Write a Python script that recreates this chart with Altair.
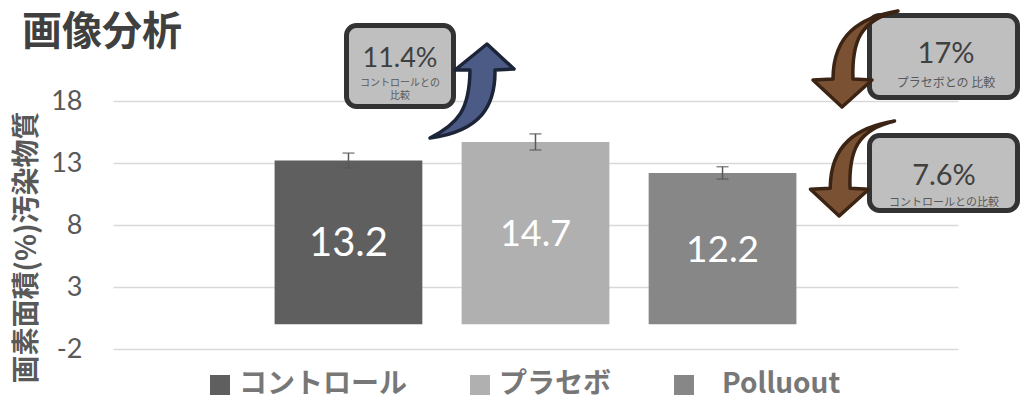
import altair as alt
import pandas as pd

# ---- data ----
categories = ["コントロール", "プラセボ", "Polluout"]
values = [13.2, 14.7, 12.2]
errors = [0.6, 0.65, 0.5]
y_ticks = [-2, 3, 8, 13, 18]

title_text = "画像分析"
y_title = "画素面積(%)汚染物質"
callout_main = ["11.4%", "17%", "7.6%"]
callout_sub = [["コントロールとの", "比較"], ["プラセボとの 比較"], ["コントロールとの比較"]]

# ---- styles ----
bar_colors = ["#5f5f5f", "#b0b0b0", "#878787"]
label_sizes = [40, 36, 37]
GRAY = "#595959"
CJK = "Noto Sans CJK JP"
NUM = "Lato"

df = pd.DataFrame({"category": categories, "value": values, "error": errors})
df["lo"] = df["value"] - df["error"]
df["hi"] = df["value"] + df["error"]
df["mid"] = df["value"] / 2

x_enc = alt.X("category:N", sort=categories,
              scale=alt.Scale(domain=categories, paddingInner=0.21, paddingOuter=0.864),
              axis=None)
y_scale = alt.Scale(domain=[-2, 18], nice=False, zero=False)

base = alt.Chart(df).encode(x=x_enc)

bars = base.mark_bar().encode(
    y=alt.Y("value:Q", scale=y_scale,
            axis=alt.Axis(values=y_ticks, title=y_title, grid=True, gridColor="#d9d9d9",
                          gridWidth=1.5, domain=False, ticks=False, labelFont=NUM,
                          labelFontSize=27, labelColor=GRAY, labelPadding=31,
                          labelExpr="datum.value + ''",
                          titleFont=CJK, titleFontSize=28, titleFontWeight="bold",
                          titleColor=GRAY, titleX=-86, titleY=146, titleBaseline="middle")),
    y2=alt.datum(0),
    color=alt.Color("category:N",
                    scale=alt.Scale(domain=categories, range=bar_colors),
                    legend=alt.Legend(orient="none", legendX=93, legendY=270,
                                      direction="horizontal", title=None,
                                      symbolType="square", symbolSize=400,
                                      symbolStrokeWidth=0, symbolOpacity=1, labelFont=CJK,
                                      labelFontSize=28, labelFontWeight="bold",
                                      labelColor="#777777", labelOffset=5,
                                      columnPadding=58, labelLimit=400, padding=0,
                                      labelExpr="indexof(datum.label, 'Pollu') >= 0 ? '\u200b\u00a0\u00a0\u00a0' + datum.label : datum.label")),
)

err_rule = base.mark_rule(color=GRAY, strokeWidth=1.5).encode(
    y=alt.Y("lo:Q", scale=y_scale), y2="hi:Q")
cap_lo = base.mark_tick(color=GRAY, size=12, thickness=1.5).encode(y=alt.Y("lo:Q", scale=y_scale))
cap_hi = base.mark_tick(color=GRAY, size=12, thickness=1.5).encode(y=alt.Y("hi:Q", scale=y_scale))

label_layers = [
    base.transform_filter(alt.datum.category == c).mark_text(
        color="white", font=NUM, fontSize=s, baseline="middle", dy=2).encode(
        y=alt.Y("mid:Q", scale=y_scale),
        text=alt.Text("value:Q", format=".1f"))
    for c, s in zip(categories, label_sizes)
]

one = pd.DataFrame({"k": [0]})


def txt(t, x, y, size, font, color, weight="normal", align="center"):
    return alt.Chart(one).mark_text(text=t, font=font, fontSize=size, color=color,
                                    fontWeight=weight, align=align,
                                    baseline="alphabetic").encode(
        x=alt.value(x), y=alt.value(y))


def box(x1, x2, y1, y2):
    return alt.Chart(one).mark_rect(fill="#bfbfbf", stroke="#333333", strokeWidth=5,
                                    cornerRadius=10).encode(
        x=alt.value(x1), x2=alt.value(x2), y=alt.value(y1), y2=alt.value(y2))


brown_path = ("M 0.876 -0.979 C 0.1 -0.85 -0.46 -0.5 -0.464 0.423 L -0.876 0.443 "
              "L -0.278 1 L 0.34 0.443 L -0.052 0.423 C -0.08 -0.35 0.1 -0.8 0.876 -0.979 Z")
blue_path = ("M 0.319 -1 L 0.894 -0.468 L 0.489 -0.447 C 0.5 0.3 0.2 0.85 -0.894 1 "
             "C -0.3 0.7 -0.05 0.4 -0.043 -0.447 L -0.362 -0.447 Z")


def arrow(path, x, y, size, fill, stroke):
    return alt.Chart(one).mark_point(shape=path, size=size, filled=True, fill=fill,
                                     stroke=stroke, strokeWidth=3.5, opacity=1,
                                     fillOpacity=1, strokeJoin="round").encode(
        x=alt.value(x), y=alt.value(y))


title = txt(title_text, -91, -56, 40, CJK, "#404040", weight="bold", align="left")

boxes = [box(233.5, 340.5, -75.5, 5.5), box(756.5, 904.5, -85.5, -3.5), box(756.5, 904.5, 34.5, 109.5)]
arrows = [
    arrow(blue_path, 359, -10, 8836, "#4b5b85", "#1c2438"),
    arrow(brown_path, 742.5, -42.5, 9409, "#7b5134", "#3b2414"),
    arrow(brown_path, 739.5, 67, 9216, "#7b5134", "#3b2414"),
]
box_text = [
    txt(callout_main[0], 287, -34, 27, NUM, "#404040"),
    txt(callout_sub[0][0], 287, -15, 10, CJK, GRAY),
    txt(callout_sub[0][1], 287, -2, 10, CJK, GRAY),
    txt(callout_main[1], 833, -38, 29, NUM, "#404040"),
    txt(callout_sub[1][0], 833, -14, 12, CJK, GRAY),
    txt(callout_main[2], 831, 84, 29, NUM, "#404040"),
    txt(callout_sub[2][0], 831, 105, 11, CJK, GRAY),
]

chart = alt.layer(bars, err_rule, cap_lo, cap_hi, *label_layers, title, *boxes, *arrows, *box_text).properties(
    width=845, height=248,
    autosize=alt.AutoSizeParams(type="none"),
    padding={"left": 105, "top": 93, "right": 63, "bottom": 51},
).configure_view(stroke=None)

chart.save("out.html", embed_options={"renderer": "svg", "actions": False})
